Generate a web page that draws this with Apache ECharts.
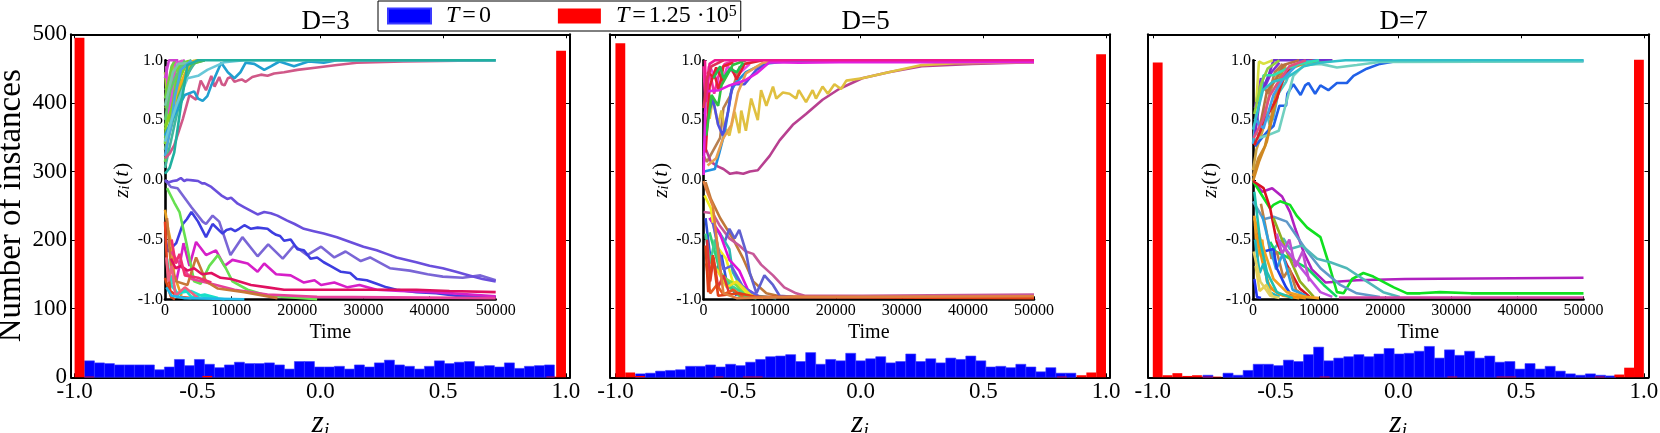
<!DOCTYPE html>
<html><head><meta charset="utf-8">
<style>html,body{margin:0;padding:0;background:#fff}#c{width:1660px;height:433px}</style>
<script src="https://cdn.jsdelivr.net/npm/echarts@6/dist/echarts.min.js"></script>
</head><body><div id="c"></div>
<script>
const panelTitles = ['D=3','D=5','D=7'];
const xTickValues = [-1,-0.5,0,0.5,1];
const yTickValues = [0,100,200,300,400,500];
const seriesNames = ['T=0','T=1.25·10^5'];

// blue histogram: first left edge, bin width, counts
const blueStartD3 = -0.96, blueWidthD3 = 0.0407;
const blueD3 = [24,21,20,18,18,18,18,11,15,26,17,26,19,14,18,22,20,20,21,18,12,23,23,15,15,16,12,18,15,21,25,18,16,12,16,24,20,22,23,16,17,15,21,13,16,17,18];
const blueStartD5 = -0.918, blueWidthD5 = 0.0408;
const blueD5 = [5,6,9,10,11,16,16,18,15,19,17,22,26,30,31,33,23,36,19,26,24,35,24,27,30,21,23,34,23,27,21,28,26,31,24,15,16,14,19,15,8,14,6,6];
const blueStartD7 = -0.796, blueWidthD7 = 0.041;
const blueD7 = [3,0,6,3,10,19,19,17,25,23,33,44,24,28,30,33,30,34,42,34,35,38,45,28,40,32,38,28,31,22,23,12,20,12,16,9,5,3,5,3,2];

// red histogram: 50 bins on [-1,1]
const redStart = -1, redWidth = 0.04;
const redD3 = [495,1,0,0,0,0,0,0,0,0,0,0,0,2,0,0,0,0,0,0,0,0,0,0,0,0,0,0,0,0,0,0,0,0,0,0,0,0,0,0,0,0,0,0,0,0,0,0,1,476];
const redD5 = [487,7,2,0,0,0,0,0,0,0,1,0,0,1,1,0,0,0,0,0,0,0,0,0,0,0,0,0,0,0,0,0,0,0,0,0,0,0,0,0,0,0,0,0,0,1,0,3,7,471];
const redD7 = [459,3,6,2,3,1,1,0,0,0,0,0,0,0,0,0,0,1,0,0,0,0,0,0,0,0,0,0,0,0,1,0,0,0,0,1,1,0,0,0,0,0,0,0,0,1,0,4,14,463];

// inset trajectories: [time / 1000, z]
const tracesD3 = [
 [[0,.45],[.7,.55],[1.3,.7],[2,.9],[2.8,.98],[4,1]],
 [[0,.6],[.8,.65],[1.4,.8],[2.2,.95],[3,1]],
 [[0,.75],[.8,.8],[1.6,.92],[2.6,1]],
 [[0,.25],[.6,.38],[1.2,.55],[1.8,.62],[2.6,.8],[3.4,.93],[4.5,1]],
 [[0,.25],[1,.45],[2,.68],[3,.85],[4.5,.98],[6,1]],
 [[0,.1],[1,.35],[2,.6],[3,.82],[4,.95],[5,1]],
 [[0,.9],[.5,.6],[1,.9],[1.5,1]],
 [[0,.3],[.5,.8],[1,.55],[1.5,.9],[2.5,1]],
 [[0,.15],[.6,.4],[1.2,.75],[1.8,.65],[2.5,.95],[3.5,.98],[5,1]],
 [[.2,.95],[.6,.55],[1.2,.8],[1.6,.98],[3,1]],
 [[0,.68],[1,.95],[1.5,1]],
 [[0,.5],[.8,.75],[1.5,.85],[3,1]],
 [[0,.42],[1,.6],[2,.82],[3.5,1]],
 [[0,.35],[1,.5],[2,.72],[3,.88],[4,.97],[6,1]],
 [[0,.85],[.6,1],[2,1]],
 [[0,.62],[1.2,.9],[2,.97],[4,.98],[5,1]],
 [[.3,.29],[1,.5],[1.7,.71],[2.7,.85],[3.9,.99],[5,1]],
 [[0,.2],[.9,.45],[1.5,.7],[2.4,.92],[4,1]],
 [[0,.18],[.7,.22],[1.4,.29],[2.7,.51],[3.7,.71],[4.2,.69],[4.7,.67],[5.4,.83],[6.2,.75],[7,.87],[7.5,.78],[8.2,.86],[8.6,.8],[9,.79],[9.5,.85],[10,.86],[10.5,.82],[11,.83],[11.6,.84],[12.2,.82],[13.2,.86],[14.5,.88],[15.5,.87],[16.5,.89],[18,.9],[20,.92],[23,.94],[26,.96],[29,.98],[36,.99],[50,1]],
 [[0,.37],[1.5,.55],[3,.71],[4.4,.74],[5,.68],[5.7,.66],[6.4,.7],[7,.79],[8.5,.98],[9.5,.9],[10.5,.85],[11.4,.9],[12.2,.98],[13.5,.97],[15,.92],[16,.95],[17.3,.99],[19.5,.95],[21.7,.99],[24,.98],[26,1],[50,1]],
 [[0,.32],[1,.5],[1.9,.65],[3.4,.85],[5,.87],[6.4,.92],[9,.985],[12,1],[50,1]],
 [[0,.05],[.7,.1],[1.4,.23],[2.4,.62],[3.4,.96],[5,1],[50,1]],
 [[0,0],[.9,-.06],[1.9,-.07],[4,-.23],[5.7,-.35],[6.2,-.37],[7.2,-.3],[8.2,-.35],[9.9,-.63],[11.7,-.48],[14,-.64],[15.6,-.54],[17.8,-.66],[19.5,-.55],[21.5,-.63],[23.6,-.56],[25.6,-.65],[27.3,-.6],[29.6,-.68],[31,-.65],[34,-.74],[37,-.76],[39.7,-.79],[42,-.81],[45,-.82],[47.7,-.8],[50,-.84]],
 [[0,-.01],[.6,-.02],[1.2,-.01],[1.8,-.005],[2.4,.015],[2.9,-.01],[3.3,0],[4.2,-.005],[5,-.01],[5.6,-.03],[6,-.03],[7,-.06],[8.5,-.13],[9.4,-.16],[10,-.15],[11,-.2],[12,-.23],[13,-.26],[14,-.29],[15,-.27],[16,-.28],[17,-.3],[18.4,-.34],[19.6,-.37],[21,-.41],[22.5,-.43],[24,-.45],[26,-.48],[28,-.52],[30,-.56],[32,-.59],[33.5,-.62],[35,-.65],[38,-.69],[40,-.72],[42,-.74],[44,-.77],[46,-.8],[48,-.83],[50,-.85]],
 [[.1,-.49],[.4,-.6],[1.7,-.53],[2.7,-.37],[3.3,-.33],[4,-.27],[5,-.35],[6.2,-.48],[7.2,-.37],[8.7,-.45],[9.3,-.42],[10,-.41],[10.6,-.43],[11.2,-.41],[12,-.38],[13,-.41],[14,-.4],[15.5,-.41],[16.2,-.44],[16.8,-.46],[17.4,-.47],[18,-.51],[19,-.5],[20,-.58],[21,-.59],[22,-.66],[23,-.65],[24,-.69],[25,-.72],[26.6,-.77],[28,-.78],[29,-.83],[30.5,-.84],[32,-.87],[33.5,-.9],[35,-.92],[38,-.94],[41,-.95],[44,-.97],[50,-.98]],
 [[1.7,-.85],[2.2,-.72],[2.8,-.53],[3.7,-.72],[4.7,-.52],[6.2,-.63],[7.7,-.59],[9,-.72],[10.2,-.67],[12.5,-.7],[14,-.77],[15,-.7],[16.8,-.79],[19,-.8],[21,-.86],[22.6,-.84],[23.6,-.88],[25.6,-.86],[27.6,-.9],[29.4,-.88],[32,-.92],[35.6,-.93],[40.7,-.94],[50,-.975]],
 [[.3,-.07],[1.4,-.19],[2.2,-.27],[3.2,-.52],[4.4,-.85],[5.4,-.87],[6.7,-.72],[8,-.63],[9.2,-.74],[10.2,-.85],[12.5,-.92],[15.5,-.97],[23,-1]],
 [[0,-.25],[.5,-.42],[1,-.55],[1.4,-.8],[2.5,-.97]],
 [[.9,-.6],[2.4,-.72],[4,-.83],[7,-.87],[10.5,-.92],[15.5,-.96],[23,-.98],[50,-.99]],
 [[.3,-.32],[.9,-.72],[1.7,-.85],[3.4,-.88],[4.7,-.65],[5.4,-.74],[6.2,-.85],[8,-.91],[12,-.94],[17,-.99]],
 [[.9,-.66],[1.6,-.74],[2.4,-.72],[3.4,-.76],[4.4,-.74],[5.6,-.79],[7,-.78],[8.4,-.82],[10,-.83],[13,-.88],[15.5,-.9],[18,-.92],[23,-.92],[28,-.92],[33,-.92],[38,-.92],[43,-.93],[50,-.94]],
 [[.3,-.66],[.9,-.88],[1.9,-.95],[3.9,-.93],[5.9,-.98],[9,-1]],
 [[0,-.82],[.9,-.98],[1.5,-1]],
 [[0,-.35],[.3,-.7],[.8,-.93],[2,-.98],[4,-.99]],
 [[.9,-.8],[1.8,-.97],[3,-.92],[4,-.98],[6,-.96],[8,-.99]],
 [[.2,-.65],[.5,-.85],[1,-.72],[1.6,-.97],[3,-.9],[5,-.99]],
 [[1,-.5],[1.6,-.7],[2.2,-.62],[3,-.8],[5,-.82],[7,-.86]],
 [[.2,-.9],[1,-.97],[3,-.99],[12,-1]]
];
const colorsD3 = ['#68d048','#78d038','#58c858','#80d030','#50b090','#40b8a0','#a0d820','#78d838','#60d050','#e050d0','#70d040','#60c870','#88d020','#58c048','#d040d0','#78c8a8','#f0b020','#48a8e0','#d05888','#20a0d0','#68c8d8','#20b0a0','#7a66d6','#6a4fdc','#3d3de0','#d61fc8','#66e050','#e8a020','#e8409a','#c87838','#e01060','#20e0d0','#d84818','#e84020','#18e0c8','#f06080','#f03070','#20b8e8'];

const tracesD5 = [
 [[0,.95],[.3,.6],[.8,.95],[1.6,.72],[2.4,.9],[3.2,.97],[5,1]],
 [[.2,.55],[.9,.95],[2.6,.78],[3.6,.95],[5,.87],[7,.97]],
 [[0,.2],[.5,.15],[1.5,.25],[2.5,.35],[3,.6],[4,.7],[5.5,.95]],
 [[.5,.9],[1.8,.85],[2.3,.75],[3,.95],[4.5,.98]],
 [[0,.23],[.4,.25],[1.1,.15],[2.2,.11],[3,.09],[4,.05],[5,.06],[6,.05],[7,.07],[8.2,.08],[10,.2],[11.5,.33],[13.5,.46],[15.5,.55],[18,.67],[20.5,.76],[24,.85],[28,.9],[33,.95],[40.7,.97],[50,.985]],
 [[.3,.71],[.9,.51],[1.4,.68],[2.2,.46],[2.7,.58],[3.2,.43],[3.9,.37],[4.7,.57],[5.4,.39],[5.7,.58],[6.4,.41],[7.2,.68],[8.2,.5],[8.7,.75],[9.5,.62],[10.5,.78],[11,.68],[12,.73],[13,.72],[14,.68],[14.4,.75],[15.5,.65],[16.5,.75],[17,.68],[18,.78],[18.8,.72],[19.8,.8],[20.8,.76],[21.6,.83],[24,.85],[28,.9],[33,.96],[38,.975],[50,.985]],
 [[.1,.07],[1.7,.09],[2.4,.23],[3.2,.4],[3.7,.57],[4.2,.75],[5,.82],[6.4,.9],[9,.97],[13,.995],[50,.995]],
 [[.3,.35],[.7,.54],[1.4,.68],[2.2,.46],[2.9,.37],[3.7,.57],[4.4,.8],[6.2,.8],[8,.92],[10,.985],[13,.995]],
 [[.6,.12],[1.9,.18],[2.9,.34],[4.2,.46],[5.2,.73],[6.4,.89],[9,.98],[12,1]],
 [[.3,.23],[.9,.78],[1.9,.94],[2.9,.83],[4.2,.94],[5,.84],[6.2,.97],[9,1]],
 [[.4,.37],[1.2,.71],[2.2,.62],[2.7,.79],[4.4,.96],[6.4,1]],
 [[1.5,.85],[2.5,.95],[3,.85],[4,.93],[5,.9],[6,.98]],
 [[0,.04],[.3,.74],[2.4,.75],[3.9,.79],[6.2,.83],[8,.89],[10,.985],[14.5,.98],[20.5,.985],[50,.985]],
 [[.2,1],[.4,.65],[.9,.97],[1.7,1],[50,1]],
 [[0,.6],[.5,.85],[1.2,.95],[3,1]],
 [[.3,-.02],[1.1,-.16],[2.5,-.32],[4.4,-.49],[6,-.66],[7.5,-.85],[9.5,-.95],[12,-.98],[28,-.975],[50,-.975]],
 [[0,-.27],[1.4,-.28],[2.4,-.38],[3.9,-.49],[5.4,-.55],[6.4,-.6],[7.5,-.62],[8.7,-.71],[10.5,-.8],[12.2,-.9],[14,-.95],[15.3,-.97],[24,-.97],[50,-.96]],
 [[.9,-.32],[3.2,-.52],[3.9,-.41],[4.7,-.49],[5.4,-.42],[6.4,-.6],[7,-.78],[8,-.95],[9.2,-.8],[10.5,-.88],[11.5,-.97],[13.5,-.98]],
 [[2.4,-.44],[3.9,-.58],[4.4,-.77],[5.4,-.87],[8,-.97],[11,-.99]],
 [[.9,-.32],[2.4,-.44],[3.9,-.67],[5.4,-.76],[6.7,-.92],[8.4,-.98]],
 [[.15,-.13],[1.1,-.24],[1.4,-.35],[2.2,-.57],[3.4,-.66],[4.4,-.85],[6.4,-.95],[9,-.99]],
 [[.3,-.32],[.9,-.6],[1.9,-.77],[2.7,-.63],[3.4,-.83],[5,-.97]],
 [[1.4,-.71],[3.4,-.83],[4.9,-.88],[6.4,-.97],[8,-.99]],
 [[.9,-.44],[2.9,-.85],[5.4,-.97],[8,-.99]],
 [[.3,-.45],[1,-.7],[1.7,-.5],[2.6,-.8],[4,-.88],[6,-.95]],
 [[1.4,-.36],[2.3,-.6],[3,-.75],[4.2,-.72],[6,-.9],[8.5,-.98]],
 [[2,-.75],[3.5,-.9],[5,-.85],[7,-.96]],
 [[.5,-.5],[1,-.85],[1.5,-.65],[2.2,-.9],[3,-.8],[4,-.97]],
 [[.4,-.7],[1,-.95],[2,-.88],[3,-.96],[4.5,-.92],[6,-.98]],
 [[.3,-.55],[.7,-.94],[1.4,-.63],[2.2,-.97],[5.4,-.95],[8,-.98],[50,-.99]],
 [[0,-.01],[.4,-.08],[1.4,-.22],[2.2,-.6],[3,-.95],[5,-.99],[13,-.98],[20,-.98],[50,-.975]]
];
const colorsD5 = ['#f030a0','#f040e0','#b88050','#e82030','#b84090','#e0c040','#2090e0','#5050e0','#e8a050','#e02030','#30c040','#20c050','#e020e0','#f01890','#e0305a','#c07838','#c85898','#6060d0','#30b8b0','#e010d8','#f0f020','#3050d8','#80e040','#30d070','#40d090','#6060e0','#f0e020','#e03040','#e85a20','#e04018','#e08040'];

const tracesD7 = [
 [[0,.3],[.5,.55],[1.2,.4],[2,.55],[3,.5],[3.8,.72],[5,.9],[7,.98]],
 [[.2,.45],[1,.35],[1.8,.6],[2.6,.45],[3.6,.7],[5,.82],[6,.96]],
 [[0,.03],[.8,.18],[1.8,.28],[2.5,.45],[3.2,.65],[4,.85],[5,.97]],
 [[0,.08],[.5,.25],[1.5,.42],[2.2,.66],[3,.8],[4.3,.95]],
 [[.3,.6],[1.2,.85],[1.8,.78],[2.8,.9],[4,.98]],
 [[.6,.7],[1.5,.78],[2.4,.72],[3.3,.9],[4.5,.97]],
 [[.3,.28],[2.1,.4],[3.1,.45],[4,.62],[5,.62],[5.2,.72],[6.1,.8],[7.2,.71],[7.9,.79],[8.4,.81],[9.4,.72],[10.2,.79],[11.4,.75],[12.7,.81],[14.2,.81],[15.2,.87],[17.2,.93],[19.2,.97],[21.8,.995],[50,.995]],
 [[.3,.34],[2.1,.37],[3.9,.41],[4.9,.62],[6.1,.87],[7.7,.96],[10.2,.97],[12.7,.94],[15.7,.96],[19.2,.986],[50,.99]],
 [[0,-.01],[.9,.15],[2.1,.32],[3.1,.57],[4.1,.79],[5.6,.93],[8,.98],[12,1]],
 [[.3,.37],[1.1,.71],[2.4,.88],[3.1,1],[8,1],[12,1]],
 [[.5,.65],[.9,.99],[1.6,.97],[3,1]],
 [[.2,.29],[1.9,.51],[3.6,.68],[4.6,.85],[6.1,.96],[9,1]],
 [[1.1,.46],[2.1,.74],[3.6,.85],[4.6,.96],[7,1]],
 [[.2,.51],[1.6,.43],[3.1,.71],[4.6,.85],[7.1,.986],[10,1]],
 [[.9,.65],[1.6,.875],[3.1,.875],[5.1,.93],[7.1,.97],[10,1]],
 [[.1,.35],[1.5,.5],[2.5,.7],[3.6,.8],[5.5,.95],[8,1]],
 [[.2,.55],[1.2,.8],[2.2,.93],[4,1]],
 [[0,.42],[1.5,.75],[3,.82],[5,.85],[7.7,.95],[10,.98],[14,1],[50,1]],
 [[0,-.01],[1.4,-.1],[2.9,-.07],[4.4,-.14],[5.6,-.27],[6.4,-.41],[7.7,-.61],[8.9,-.75],[11,-.86],[15.7,-.84],[23,-.83],[50,-.82]],
 [[0,-.01],[2.6,-.24],[3.1,-.21],[4.1,-.18],[5.6,-.21],[6.6,-.3],[8.2,-.4],[10.2,-.48],[11.4,-.69],[12.7,-.94],[13.7,-.95],[15,-.83],[16.7,-.78],[18.2,-.81],[21.3,-.9],[23.3,-.95],[25.3,-.95],[28.3,-.94],[33,-.95],[50,-.95]],
 [[0,-.18],[1.6,-.33],[3.1,-.31],[5.1,-.35],[6.6,-.47],[8.2,-.6],[10.2,-.74],[13.2,-.88],[15.7,-.95],[19.2,-.98]],
 [[3.1,-.58],[4.6,-.49],[5.6,-.58],[7.4,-.55],[9.7,-.66],[11.7,-.69],[14.2,-.74],[17.2,-.85],[19.7,-.94],[22.2,-.98]],
 [[0,-.01],[1.6,-.07],[2.6,-.24],[3.6,-.52],[5.1,-.71],[7.1,-.91],[8.6,-.98]],
 [[2.6,-.52],[3.4,-.6],[4.6,-.63],[8.2,-.74],[10.7,-.88],[12.7,-.98]],
 [[3.1,-.32],[5.1,-.6],[7.1,-.85],[9.2,-.98]],
 [[3.6,-.49],[6.1,-.66],[8.6,-.83],[10.2,-.94],[12,-.98]],
 [[3.6,-.45],[4.4,-.62],[5.5,-.5],[6.4,-.73],[7.5,-.6],[8.5,-.85]],
 [[1.2,-.2],[2,-.42],[2.8,-.66],[3.6,-.6],[4.6,-.82],[5.5,-.74],[6.5,-.92],[8,-.98]],
 [[1.4,-.3],[2.5,-.55],[3.5,-.75],[4.5,-.62],[6,-.92],[8,-.97]],
 [[.3,-.38],[1.6,-.6],[3.1,-.58],[3.6,-.74],[5,-.9],[6,-.98]],
 [[.2,-.32],[1.1,-.49],[2.1,-.66],[3.1,-.83],[5.1,-.94],[8.1,-.98],[10,-.99]],
 [[.2,-.3],[.7,-.65],[1.4,-.5],[2.1,-.85],[3,-.92],[4.5,-.97],[7,-.99]],
 [[.5,-.45],[1.4,-.68],[2.5,-.9],[4,-.96],[8,-.99]],
 [[.2,-.1],[1.1,-.52],[2.1,-.77],[3.6,-.94],[6,-.99]],
 [[.3,-.5],[1,-.78],[1.6,-.7],[2.5,-.94],[4,-.98]],
 [[.4,-.72],[1,-.93],[2,-.88],[3,-.98]],
 [[.1,-.6],[1.1,-.85],[2.6,-.97],[4,-.99]],
 [[.2,-.83],[.6,-.98],[1.2,-.99]],
 [[13,-.985],[24,-.985],[50,-.985]]
];
const colorsD7 = ['#40b0e0','#50c8c0','#c88a30','#c8a040','#8030d8','#c07848','#2060e8','#70d0c0','#d08820','#7030d0','#d8e040','#e02020','#b87040','#40a0e8','#30e0b0','#e05080','#90d040','#30c0c8','#b020c0','#10e020','#6098c8','#50b8b8','#d81020','#10d860','#90b020','#c050e0','#c050d0','#c08040','#30a0e0','#2040e8','#f0a020','#f0a020','#f09010','#20c0b0','#20b8c0','#e8d050','#e0d060','#2030f0','#d040a0'];

const blueSets = [[blueStartD3,blueWidthD3,blueD3],[blueStartD5,blueWidthD5,blueD5],[blueStartD7,blueWidthD7,blueD7]];
const redSets = [redD3,redD5,redD7];
const traceSets = [[tracesD3,colorsD3],[tracesD5,colorsD5],[tracesD7,colorsD7]];

// layout
const FONT = 'Liberation Serif';
const mainLeft = [71,610,1148], mainRight = [570,1110,1648.5];
const mainLim = [[-1.0146,1.0163],[-1.0222,1.0163],[-1.0195,1.0190]];
const insetLeft = [165,703.6,1253], insetRight = [495.7,1034,1583.5];
const mainTop = 34.3, mainBottom = 377.3, insetTop = 60.3, insetBottom = 299.3;
const titleCenter = [320.7,860.7,1398.7];

const binRenderer = (w) => (params, api) => {
  const v = api.value(1); if (!v) return null;
  const x0 = api.value(0);
  const a = api.coord([x0,0]), b = api.coord([x0+w,v]);
  return {type:'rect', shape:{x:a[0],y:b[1],width:b[0]-a[0],height:a[1]-b[1]}, style:api.style()};
};

const grid=[], xAxis=[], yAxis=[], series=[], title=[];
const noLine = {show:false};
for (let p=0;p<3;p++){
  const gi = grid.length;
  grid.push({left:mainLeft[p],top:mainTop,width:mainRight[p]-mainLeft[p],height:mainBottom-mainTop,show:false,outerBoundsMode:'none',containLabel:false});
  title.push({text:panelTitles[p],left:titleCenter[p],top:3,textAlign:'center',textStyle:{fontFamily:FONT,fontSize:27,fontWeight:'normal',color:'#000'}});
  const xi = xAxis.length, yi = yAxis.length;
  const line = {show:true,onZero:false,lineStyle:{color:'#000',width:2}};
  xAxis.push({gridIndex:gi,type:'value',position:'bottom',min:mainLim[p][0],max:mainLim[p][1],
    name:'{z|z}{s|i}',nameLocation:'middle',nameGap:24,
    nameTextStyle:{rich:{z:{fontFamily:FONT,fontStyle:'italic',fontSize:31,color:'#000',lineHeight:34},s:{fontFamily:FONT,fontStyle:'italic',fontSize:19,color:'#000',verticalAlign:'bottom',lineHeight:34,padding:[12,0,0,0]}}},
    axisLine:line,splitLine:noLine,
    axisTick:{show:true,inside:true,length:4,customValues:xTickValues,lineStyle:{color:'#000',width:1}},
    axisLabel:{customValues:xTickValues,margin:3,formatter:v=>v.toFixed(1),fontFamily:FONT,fontSize:23,color:'#000'}});
  xAxis.push({gridIndex:gi,type:'value',position:'top',min:mainLim[p][0],max:mainLim[p][1],
    axisLine:line,splitLine:noLine,axisLabel:noLine,
    axisTick:{show:true,inside:true,length:4,customValues:xTickValues,lineStyle:{color:'#000',width:1}}});
  yAxis.push({gridIndex:gi,type:'value',position:'left',min:0,max:500,interval:100,
    name:p===0?'Number of instances':'',nameLocation:'middle',nameGap:43,nameRotate:90,
    nameTextStyle:{fontFamily:FONT,fontSize:33,color:'#000'},
    axisLine:line,splitLine:noLine,
    axisTick:{show:true,inside:true,length:4,lineStyle:{color:'#000',width:1}},
    axisLabel:{show:p===0,margin:4,fontFamily:FONT,fontSize:23,color:'#000'}});
  yAxis.push({gridIndex:gi,type:'value',position:'right',min:0,max:500,interval:100,
    axisLine:line,splitLine:noLine,axisLabel:noLine,
    axisTick:{show:true,inside:true,length:4,lineStyle:{color:'#000',width:1}}});
  const [bs,bw,bv] = blueSets[p];
  series.push({name:seriesNames[0],type:'custom',xAxisIndex:xi,yAxisIndex:yi,renderItem:binRenderer(bw),
    encode:{x:0,y:1},itemStyle:{color:'#0000ff',borderColor:'#3a3aff',borderWidth:.6},
    data:bv.map((v,i)=>[bs+i*bw,v]),silent:true,z:2});
  series.push({name:seriesNames[1],type:'custom',xAxisIndex:xi,yAxisIndex:yi,renderItem:binRenderer(redWidth),
    encode:{x:0,y:1},itemStyle:{color:'#ff0000'},
    data:redSets[p].map((v,i)=>[redStart+i*redWidth,v]),silent:true,z:3});

  const gj = grid.length;
  grid.push({left:insetLeft[p],top:insetTop,width:insetRight[p]-insetLeft[p],height:insetBottom-insetTop,show:false,outerBoundsMode:'none',containLabel:false});
  const xj = xAxis.length, yj = yAxis.length;
  const iline = {show:true,onZero:false,lineStyle:{color:'#000',width:2.6}};
  xAxis.push({gridIndex:gj,type:'value',min:0,max:50000,interval:10000,
    name:'Time',nameLocation:'middle',nameGap:21,nameTextStyle:{fontFamily:FONT,fontSize:20,color:'#000'},
    axisLine:iline,splitLine:noLine,
    axisTick:{show:true,inside:true,length:3,lineStyle:{color:'#000',width:1}},
    axisLabel:{margin:3,fontFamily:FONT,fontSize:16,color:'#000',hideOverlap:false,showMinLabel:true,showMaxLabel:true,formatter:v=>String(v)}});
  yAxis.push({gridIndex:gj,type:'value',min:-1,max:1,interval:.5,
    name:'{z|z}{s|i}{p|(}{t|t}{p|)}',nameLocation:'middle',nameGap:32,nameRotate:90,
    nameTextStyle:{rich:{z:{fontFamily:FONT,fontStyle:'italic',fontSize:21,color:'#000'},s:{fontFamily:FONT,fontStyle:'italic',fontSize:14,color:'#000',padding:[6,0,0,0]},p:{fontFamily:FONT,fontSize:21,color:'#000',padding:[0,1,0,1]},t:{fontFamily:FONT,fontStyle:'italic',fontSize:21,color:'#000'}}},
    axisLine:iline,splitLine:noLine,
    axisTick:{show:true,inside:true,length:3,lineStyle:{color:'#000',width:1}},
    axisLabel:{margin:2,fontFamily:FONT,fontSize:16,color:'#000',formatter:v=>v.toFixed(1)}});
  const [tr,cl] = traceSets[p];
  tr.forEach((pts,k)=>series.push({type:'line',xAxisIndex:xj,yAxisIndex:yj,showSymbol:false,symbol:'none',clip:false,silent:true,
    lineStyle:{color:cl[k],width:2.6},data:pts.map(q=>[q[0]*1000,q[1]]),z:5+k/100,legendHoverLink:false}));
}

const legendLabel = {[seriesNames[0]]:'{t|T}{e|=}{n|0}',[seriesNames[1]]:'{t|T}{e|=}{n|1.25 ·10}{u|5}'};
const option = {
  animation:false,backgroundColor:'#fff',title,grid,xAxis,yAxis,series,
  legend:{left:378,top:1,orient:'horizontal',data:seriesNames.map(n=>({name:n,icon:'rect'})),
    itemWidth:43,itemHeight:15,itemGap:67,padding:[3,4,3,9],borderColor:'#000',borderWidth:1,backgroundColor:'#fff',selectedMode:false,z:20,
    formatter:n=>legendLabel[n],
    textStyle:{rich:{t:{fontFamily:FONT,fontStyle:'italic',fontSize:24,lineHeight:24,color:'#000',padding:[0,0,0,10]},e:{fontFamily:FONT,fontSize:24,lineHeight:24,color:'#000',padding:[0,3,0,3]},n:{fontFamily:FONT,fontSize:24,lineHeight:24,color:'#000'},u:{fontFamily:FONT,fontSize:16,lineHeight:14,color:'#000',verticalAlign:'top'}}}}
};
echarts.init(document.getElementById('c'),null,{renderer:'canvas'}).setOption(option);
</script></body></html>
